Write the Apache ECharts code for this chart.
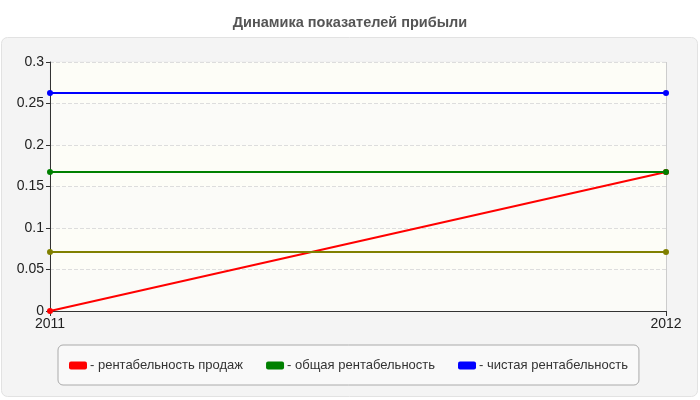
<!DOCTYPE html>
<html>
<head>
<meta charset="utf-8">
<script src="https://cdn.jsdelivr.net/npm/echarts@6/dist/echarts.min.js"></script>
<style>
  html, body { margin: 0; padding: 0; background: #fff; }
  #chart { width: 700px; height: 400px; }
</style>
</head>
<body>
<div id="chart"></div>
<script>
let years = ['2011', '2012']
let salesProfit = [0, 0.1675]
let totalProfit = [0.1675, 0.1675]
let netProfit = [0.2627, 0.2627]
let otherProfit = [0.0711, 0.0711]

let myChart = echarts.init(document.getElementById('chart'))

function lineSeries(name, data, color) {
	return {
		name: name,
		type: 'line',
		data: data,
		symbol: 'circle',
		symbolSize: 6,
		lineStyle: { color: color, width: 2 },
		itemStyle: { color: color },
		animation: false
	}
}

let option = {
	backgroundColor: '#fff',
	animation: false,
	textStyle: { fontFamily: 'Arial, "Liberation Sans", sans-serif' },
	title: {
		text: 'Динамика показателей прибыли',
		left: 'center',
		top: 10,
		textStyle: { fontSize: 14.5, fontWeight: 'bold', color: '#555' }
	},
	graphic: [{
		type: 'rect',
		z: -10,
		silent: true,
		shape: { x: 1.5, y: 37.5, width: 696, height: 359, r: 6 },
		style: { fill: '#f4f4f4', stroke: '#e2e2e2', lineWidth: 1 }
	}],
	grid: {
		left: 50,
		right: 34,
		top: 62,
		bottom: 89,
		show: true,
		backgroundColor: '#fdfdf9',
		borderColor: '#ececec',
		borderWidth: 1
	},
	legend: {
		data: ['- рентабельность продаж', '- общая рентабельность', '- чистая рентабельность'],
		left: 58,
		top: 345,
		padding: [14, 11, 13, 11],
		itemWidth: 18,
		itemHeight: 8,
		itemGap: 23,
		backgroundColor: '#f9f9f9',
		borderColor: '#aaa',
		borderWidth: 1,
		borderRadius: 5,
		icon: 'roundRect',
		textStyle: { fontSize: 13, color: '#333', padding: [0, 0, 0, -2] }
	},
	xAxis: {
		type: 'category',
		data: years,
		boundaryGap: false,
		axisLine: { lineStyle: { color: '#333' } },
		axisTick: { show: true, length: 5, lineStyle: { color: '#333' } },
		axisLabel: { color: '#222', fontSize: 14, margin: 6 },
		splitLine: { show: true, lineStyle: { color: '#ccc' } }
	},
	yAxis: {
		type: 'value',
		min: 0,
		max: 0.3,
		interval: 0.05,
		axisLine: { show: true, lineStyle: { color: '#333' } },
		axisTick: { show: true, length: 4, lineStyle: { color: '#333' } },
		axisLabel: {
			color: '#222',
			fontSize: 14,
			margin: 6,
			formatter: function (v) {
				return String(parseFloat(v.toFixed(2)))
			}
		},
		splitLine: { show: true, lineStyle: { color: '#ddd', type: 'dashed' } },
		splitArea: { show: true, areaStyle: { color: ['#fbfbf8', '#fdfdf7'] } }
	},
	series: [
		lineSeries('- рентабельность продаж', salesProfit, '#ff0000'),
		lineSeries('- общая рентабельность', totalProfit, '#008000'),
		lineSeries('- чистая рентабельность', netProfit, '#0000ff'),
		lineSeries('прочее', otherProfit, '#808000')
	]
}

myChart.setOption(option)
</script>
</body>
</html>
